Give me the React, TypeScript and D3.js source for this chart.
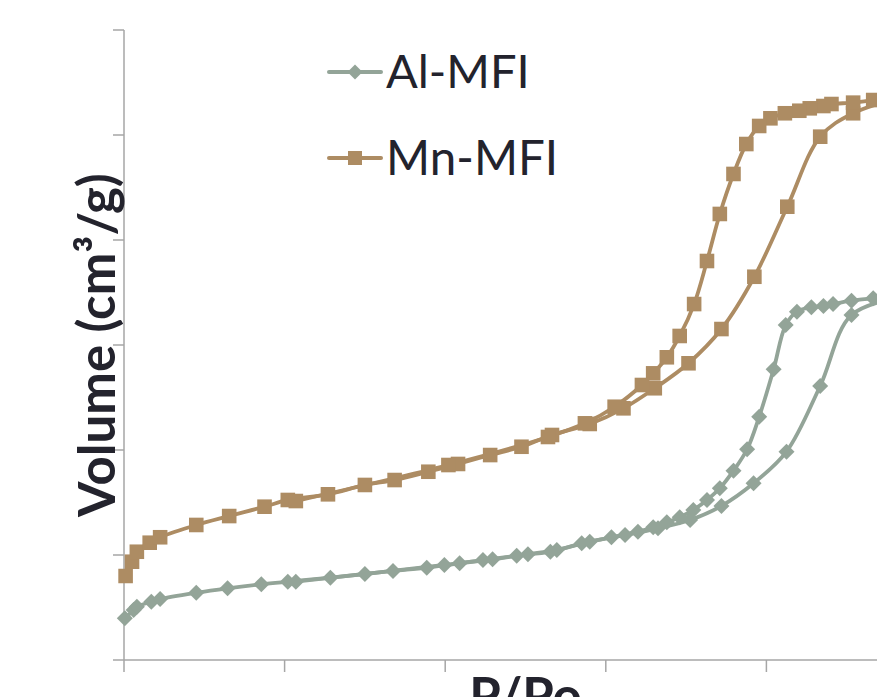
import React from "react";
import * as d3 from "d3";

// Data: [P/Po, Volume] (y in arbitrary units, 100 per tick)
const alAdsorption: [number, number][] = [
  [0.001, 39.7], [0.012, 47.6], [0.016, 50.8], [0.034, 55.5], [0.045, 58.1],
  [0.09, 64.1], [0.129, 68.3], [0.171, 72.1], [0.204, 74.6], [0.257, 78.4],
  [0.3, 81.9], [0.335, 84.8], [0.377, 87.9], [0.418, 92.1], [0.459, 95.9],
  [0.503, 100.7], [0.539, 104.8], [0.58, 112.7], [0.624, 119.0], [0.665, 125.4],
  [0.705, 133.3], [0.744, 146.7], [0.784, 168.3], [0.825, 198.4], [0.867, 261.0],
  [0.906, 328.6], [0.97, 346.0],
];
const alDesorption: [number, number][] = [
  [0.97, 346.0], [0.933, 344.5], [0.906, 342.2], [0.883, 339.0], [0.871, 337.1],
  [0.856, 335.9], [0.838, 331.7], [0.824, 319.0], [0.809, 276.9], [0.791, 231.7],
  [0.776, 200.7], [0.759, 180.3], [0.742, 163.5], [0.726, 152.4], [0.709, 142.9],
  [0.692, 135.9], [0.676, 131.1], [0.659, 126.4], [0.64, 122.2], [0.607, 116.9],
  [0.57, 111.1], [0.531, 103.1], [0.489, 99.3], [0.447, 95.2], [0.399, 90.5],
  [0.214, 74.6],
];
const mnAdsorption: [number, number][] = [
  [0.002, 80.0], [0.01, 93.6], [0.016, 103.1], [0.032, 111.7], [0.045, 116.9],
  [0.09, 128.6], [0.131, 137.1], [0.175, 146.0], [0.204, 152.4], [0.254, 157.8],
  [0.3, 166.7], [0.337, 171.4], [0.379, 179.3], [0.416, 186.7], [0.456, 195.2],
  [0.495, 203.1], [0.533, 214.3], [0.58, 224.8], [0.622, 239.7], [0.661, 258.8],
  [0.703, 282.6], [0.744, 315.2], [0.785, 365.0], [0.826, 431.7], [0.867, 498.4],
  [0.908, 520.7], [0.97, 536.2],
];
const mnDesorption: [number, number][] = [
  [0.97, 536.2], [0.933, 533.3], [0.908, 530.8], [0.881, 529.5], [0.871, 527.6],
  [0.854, 525.4], [0.841, 523.1], [0.823, 520.7], [0.805, 515.9], [0.791, 508.6],
  [0.775, 491.4], [0.759, 462.9], [0.742, 424.8], [0.726, 380.0], [0.71, 339.0],
  [0.692, 308.6], [0.676, 288.3], [0.659, 273.0], [0.645, 261.9], [0.611, 241.2],
  [0.574, 225.4], [0.528, 212.4], [0.404, 185.7], [0.214, 151.4],
];
const seriesNames = ["Al-MFI", "Mn-MFI"];
const xTicks = [0, 0.2, 0.4, 0.6, 0.8, 1.0];
const yTicks = [0, 100, 200, 300, 400, 500, 600];

const GREY = "#93a498";
const BROWN = "#ad8c63";
const TEXT = "#23232d";
const AXIS = "#a6a6a6";

export default function App() {
  const x = d3.scaleLinear().domain([0, 1]).range([124, 927]);
  const y = d3.scaleLinear().domain([0, 600]).range([660, 30]);

  const line = d3
    .line<[number, number]>()
    .x((d) => x(d[0]))
    .y((d) => y(d[1]))
    .curve(d3.curveCatmullRom.alpha(0.5));

  const diamond = (cx: number, cy: number, r = 8) =>
    `M${cx},${cy - r}L${cx + r},${cy}L${cx},${cy + r}L${cx - r},${cy}Z`;
  const square = (cx: number, cy: number, h = 7.3) =>
    `M${cx - h},${cy - h}h${2 * h}v${2 * h}h${-2 * h}Z`;

  const alPts = [...alAdsorption, ...alDesorption];
  const mnPts = [...mnAdsorption, ...mnDesorption];

  return (
    <svg
      width={877}
      height={697}
      style={{ position: "absolute", left: 0, top: 0, background: "#fff" }}
      fontFamily="Lato, 'Open Sans', sans-serif"
    >
      {/* axes */}
      <line x1={x(0)} x2={x(1)} y1={y(0)} y2={y(0)} stroke={AXIS} strokeWidth={1.5} />
      <line x1={x(0)} x2={x(0)} y1={y(0)} y2={y(600)} stroke={AXIS} strokeWidth={1.5} />
      {xTicks.map((t) => (
        <line key={"xt" + t} x1={x(t)} x2={x(t)} y1={y(0)} y2={y(0) + 12} stroke={AXIS} strokeWidth={1.5} />
      ))}
      {yTicks.map((t) => (
        <line key={"yt" + t} x1={x(0) - 11} x2={x(0)} y1={y(t)} y2={y(t)} stroke={AXIS} strokeWidth={1.5} />
      ))}

      {/* Al-MFI */}
      <path d={line(alAdsorption) || ""} fill="none" stroke={GREY} strokeWidth={3.8} />
      <path d={line(alDesorption) || ""} fill="none" stroke={GREY} strokeWidth={3.8} />
      {alPts.map((d, i) => (
        <path key={"a" + i} d={diamond(x(d[0]), y(d[1]))} fill={GREY} />
      ))}

      {/* Mn-MFI */}
      <path d={line(mnAdsorption) || ""} fill="none" stroke={BROWN} strokeWidth={3.8} />
      <path d={line(mnDesorption) || ""} fill="none" stroke={BROWN} strokeWidth={3.8} />
      {mnPts.map((d, i) => (
        <path key={"m" + i} d={square(x(d[0]), y(d[1]))} fill={BROWN} />
      ))}

      {/* legend */}
      <line x1={329} x2={381} y1={72} y2={72} stroke={GREY} strokeWidth={4} strokeLinecap="round" />
      <path d={diamond(355, 72, 7.5)} fill={GREY} />
      <text x={386} y={88} fontSize={47} fill={TEXT}>{seriesNames[0]}</text>
      <line x1={329} x2={381} y1={158} y2={158} stroke={BROWN} strokeWidth={4} strokeLinecap="round" />
      <path d={square(355, 158, 7)} fill={BROWN} />
      <text x={386} y={175} fontSize={47.5} fill={TEXT}>{seriesNames[1]}</text>

      {/* axis titles */}
      <text
        transform={`translate(115,${(y(0) + y(600)) / 2}) rotate(-90)`}
        textAnchor="middle"
        fontSize={51}
        fontWeight="bold"
        fill={TEXT}
      >
        Volume (cm³/g)
      </text>
      <text x={x(0.5)} y={714} textAnchor="middle" fontSize={51} fontWeight="bold" fill={TEXT}>
        P/Po
      </text>
    </svg>
  );
}
